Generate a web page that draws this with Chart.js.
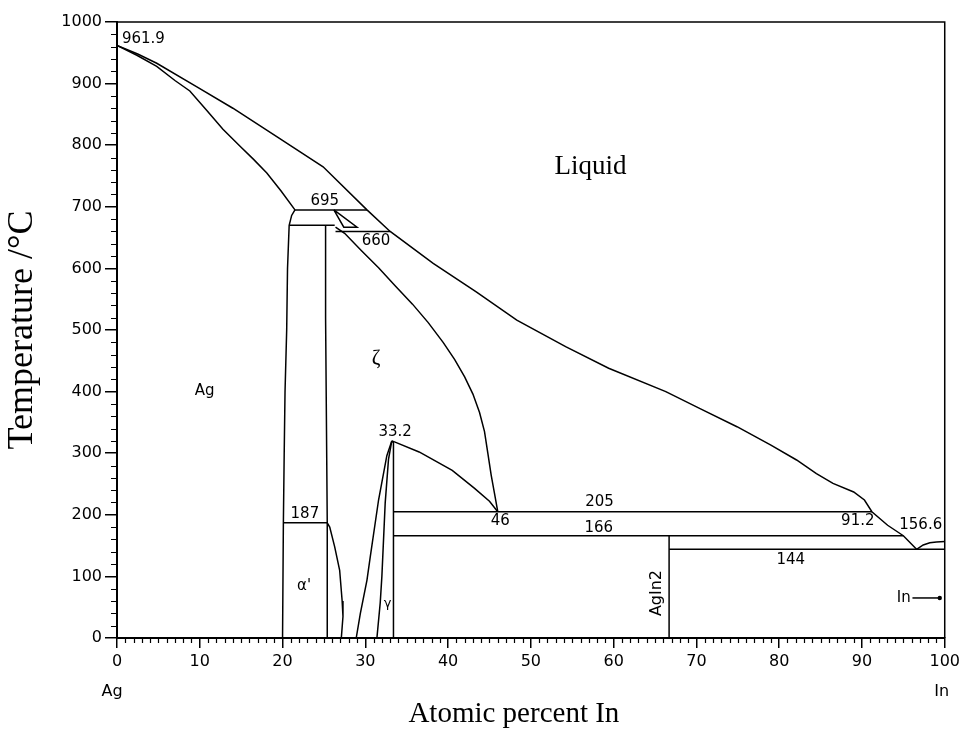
<!DOCTYPE html>
<html>
<head>
<meta charset="utf-8">
<script src="https://cdn.jsdelivr.net/npm/chart.js@4.4.1/dist/chart.umd.min.js"></script>
<style>
  html, body { margin: 0; padding: 0; background: #fff; }
  canvas { display: block; }
</style>
</head>
<body>
<canvas id="diagram" width="964" height="729"></canvas>
<script>
// Ag–In equilibrium phase diagram (temperature vs. atomic percent In)

// invariant values, °C and at.% In
const agMelt = 961.9;
const inMelt = 156.6;
const gammaPeakX = 33.2;
const gammaPeakT = 320;
const zetaAt205 = 46;
const liqAt205 = 91.2;

// horizontal invariant lines: temperature, left end, right end
const isoT    = [695, 670, 660, 187, 205, 166, 144];
const isoFrom = [21.5, 20.8, 26.4, 20.1, 33.4, 33.4, 66.7];
const isoTo   = [30.2, 26.3, 33.0, 25.4, liqAt205, 95.0, 100];

// phase boundaries as [at.% In, °C]
const liquidusAg = [[0, agMelt], [2.5, 948], [4.8, 933], [9.6, 895], [14.0, 860], [19.3, 814],
  [24.9, 765], [30.2, 695], [33.0, 660], [38.2, 608], [43.4, 562], [48.3, 516],
  [54.2, 473], [59.4, 438], [66.3, 400], [70.5, 372], [74.9, 343], [79.0, 313], [82.1, 289],
  [84.5, 267], [86.5, 251], [89.0, 237], [90.3, 224], [liqAt205, 205], [93.1, 183],
  [95.0, 166], [96.6, 144]];
const liquidusIn = [[96.6, 144], [97.4, 151], [98.2, 154.5], [99.0, 156], [100, inMelt]];
const agSolidus = [[0, agMelt], [2.4, 946], [4.8, 928], [7.0, 905], [8.8, 888], [10.8, 857],
  [12.8, 826], [14.9, 798], [16.5, 777], [18.1, 755], [19.8, 726], [21.5, 695]];
const agSolvus = [[21.5, 695], [21.1, 686], [20.8, 670], [20.6, 600], [20.5, 500],
  [20.3, 400], [20.2, 300], [20.1, 187], [20.0, 0]];
const zetaLeft = [[25.2, 670], [25.2, 520], [25.4, 187], [25.4, 0]];
const zetaLow = [[25.4, 187], [25.7, 180], [26.3, 148], [26.9, 110], [27.2, 60], [27.3, 35], [27.1, 0]];
const zetaSolidus = [[26.4, 667], [27.5, 657], [29.6, 628], [31.6, 601], [33.6, 572], [35.7, 542],
  [37.6, 512], [39.4, 480], [40.8, 452], [42.0, 424], [43.0, 396], [43.8, 366], [44.4, 335],
  [44.8, 300], [45.2, 265], [45.6, 235], [zetaAt205, 205]];
const betaLoop = [[26.2, 695], [29.0, 667], [27.4, 667], [26.2, 695]];
const gammaOuter = [[28.9, 0], [29.4, 40], [30.2, 94], [30.6, 132], [31.6, 224], [32.6, 296],
  [gammaPeakX, gammaPeakT]];
const gammaInner = [[31.4, 0], [31.8, 57], [32.0, 100], [32.4, 219], [32.8, 290],
  [gammaPeakX, gammaPeakT]];
const gammaRight = [[gammaPeakX, gammaPeakT], [33.4, 317], [33.4, 0]];
const gammaDome = [[gammaPeakX, gammaPeakT], [33.6, 318], [36.5, 302], [40.5, 272],
  [43.2, 243], [45.0, 222], [zetaAt205, 205]];
const agIn2Line = [[66.7, 0], [66.7, 166]];

// axis ticks
const xMajor = [0, 10, 20, 30, 40, 50, 60, 70, 80, 90, 100];
const yMajor = [0, 100, 200, 300, 400, 500, 600, 700, 800, 900, 1000];

const sans = "'DejaVu Sans', sans-serif";
const serif = "'Liberation Serif', 'Times New Roman', serif";

const curves = [liquidusAg, liquidusIn, agSolidus, agSolvus, zetaLeft, zetaLow, zetaSolidus,
  betaLoop, gammaOuter, gammaInner, gammaRight, gammaDome, agIn2Line];
const isoLines = isoT.map((t, i) => [[isoFrom[i], t], [isoTo[i], t]]);

const datasets = curves.concat(isoLines).map(pts => ({
  data: pts.map(([x, y]) => ({ x, y })),
  showLine: true,
  borderColor: '#000',
  borderWidth: 1.5,
  pointRadius: 0,
  tension: 0,
  fill: false
}));

// value labels: text taken from the values above, anchored in data units
const valueLabels = [
  { text: String(agMelt), x: 0.6, y: 972, align: 'left' },
  { text: String(isoT[0]), x: 25.1, y: 709 },
  { text: String(isoT[2]), x: 31.3, y: 644 },
  { text: String(isoT[3]), x: 22.7, y: 201 },
  { text: String(gammaPeakX), x: 33.6, y: 334 },
  { text: String(zetaAt205), x: 46.3, y: 190 },
  { text: String(isoT[4]), x: 58.3, y: 220 },
  { text: String(isoT[5]), x: 58.2, y: 179 },
  { text: String(liqAt205), x: 89.5, y: 190 },
  { text: String(inMelt), x: 97.1, y: 183 },
  { text: String(isoT[6]), x: 81.4, y: 127 }
];

const annotate = {
  id: 'annotate',
  afterDraw(chart) {
    const { ctx, chartArea: a, scales: { x, y } } = chart;
    ctx.save();
    ctx.strokeStyle = '#000';
    ctx.fillStyle = '#000';

    // frame on top and right
    ctx.lineWidth = 1.5;
    ctx.beginPath();
    ctx.moveTo(a.left, a.top);
    ctx.lineTo(a.right, a.top);
    ctx.lineTo(a.right, a.bottom);
    ctx.stroke();

    // minor ticks
    ctx.lineWidth = 1.2;
    ctx.beginPath();
    for (let v = 1; v < 100; v++) {
      if (v % 10 === 0) continue;
      const px = Math.round(x.getPixelForValue(v)) + 0.5;
      ctx.moveTo(px, a.bottom);
      ctx.lineTo(px, a.bottom + 5);
    }
    for (let v = 20; v < 1000; v += 20) {
      if (v % 100 === 0) continue;
      const py = Math.round(y.getPixelForValue(v)) + 0.5;
      ctx.moveTo(a.left, py);
      ctx.lineTo(a.left - 6, py);
    }
    ctx.stroke();

    // numbers on the invariants
    ctx.font = '15px ' + sans;
    ctx.textBaseline = 'middle';
    valueLabels.forEach(l => {
      ctx.textAlign = l.align || 'center';
      ctx.fillText(l.text, x.getPixelForValue(l.x), y.getPixelForValue(l.y));
    });

    // phase names
    ctx.textAlign = 'center';
    ctx.font = '27px ' + serif;
    ctx.fillText('Liquid', x.getPixelForValue(57.2), y.getPixelForValue(765));
    ctx.font = '21px ' + serif;
    ctx.fillText('ζ', x.getPixelForValue(31.3), y.getPixelForValue(453));
    ctx.font = '15px ' + sans;
    ctx.fillText('Ag', x.getPixelForValue(10.6), y.getPixelForValue(401));
    ctx.fillText("α'", x.getPixelForValue(22.6), y.getPixelForValue(84));
    ctx.font = '13px ' + sans;
    ctx.fillText('γ', x.getPixelForValue(32.7), y.getPixelForValue(55));

    ctx.save();
    ctx.font = '16px ' + sans;
    ctx.translate(x.getPixelForValue(65.2), y.getPixelForValue(73));
    ctx.rotate(-Math.PI / 2);
    ctx.fillText('AgIn2', 0, 0);
    ctx.restore();

    // In pointer
    ctx.font = '15px ' + sans;
    ctx.textAlign = 'right';
    const yIn = y.getPixelForValue(65);
    ctx.fillText('In', x.getPixelForValue(95.9), yIn);
    ctx.lineWidth = 1.5;
    ctx.beginPath();
    ctx.moveTo(x.getPixelForValue(96.1), yIn);
    ctx.lineTo(x.getPixelForValue(99.4), yIn);
    ctx.stroke();
    ctx.beginPath();
    ctx.arc(x.getPixelForValue(99.4), yIn, 2.2, 0, Math.PI * 2);
    ctx.fill();

    // element names under the axis ends
    ctx.textAlign = 'center';
    ctx.font = '16px ' + sans;
    ctx.fillText('Ag', x.getPixelForValue(0) - 5, 692);
    ctx.fillText('In', x.getPixelForValue(100) - 3, 692);

    // axis titles
    ctx.font = '29px ' + serif;
    ctx.fillText('Atomic percent In', (a.left + a.right) / 2 - 17, 714);
    ctx.save();
    ctx.font = '36px ' + serif;
    ctx.translate(23, (a.top + a.bottom) / 2);
    ctx.rotate(-Math.PI / 2);
    ctx.fillText('Temperature /°C', 0, 0);
    ctx.restore();

    ctx.restore();
  }
};

new Chart(document.getElementById('diagram'), {
  type: 'scatter',
  data: { datasets },
  plugins: [annotate],
  options: {
    responsive: false,
    animation: false,
    events: [],
    layout: { padding: { top: 22, right: 19, left: 0, bottom: 0 } },
    plugins: { legend: { display: false }, tooltip: { enabled: false } },
    scales: {
      x: {
        type: 'linear', min: 0, max: 100,
        afterBuildTicks: s => { s.ticks = xMajor.map(v => ({ value: v })); },
        ticks: { color: '#000', font: { family: sans, size: 16 }, padding: 4, maxRotation: 0,
                 autoSkip: false, callback: v => String(v) },
        grid: { drawOnChartArea: false, drawTicks: true, tickLength: 10, color: '#000', lineWidth: 1.5 },
        border: { display: true, color: '#000', width: 2 },
        afterFit: s => { s.height = 91; }
      },
      y: {
        type: 'linear', min: 0, max: 1000,
        afterBuildTicks: s => { s.ticks = yMajor.map(v => ({ value: v })); },
        ticks: { color: '#000', font: { family: sans, size: 16 }, padding: 3, autoSkip: false,
                 callback: v => String(v) },
        grid: { drawOnChartArea: false, drawTicks: true, tickLength: 12, color: '#000', lineWidth: 1.5 },
        border: { display: true, color: '#000', width: 2 },
        afterFit: s => { s.width = 117; }
      }
    }
  }
});
</script>
</body>
</html>
